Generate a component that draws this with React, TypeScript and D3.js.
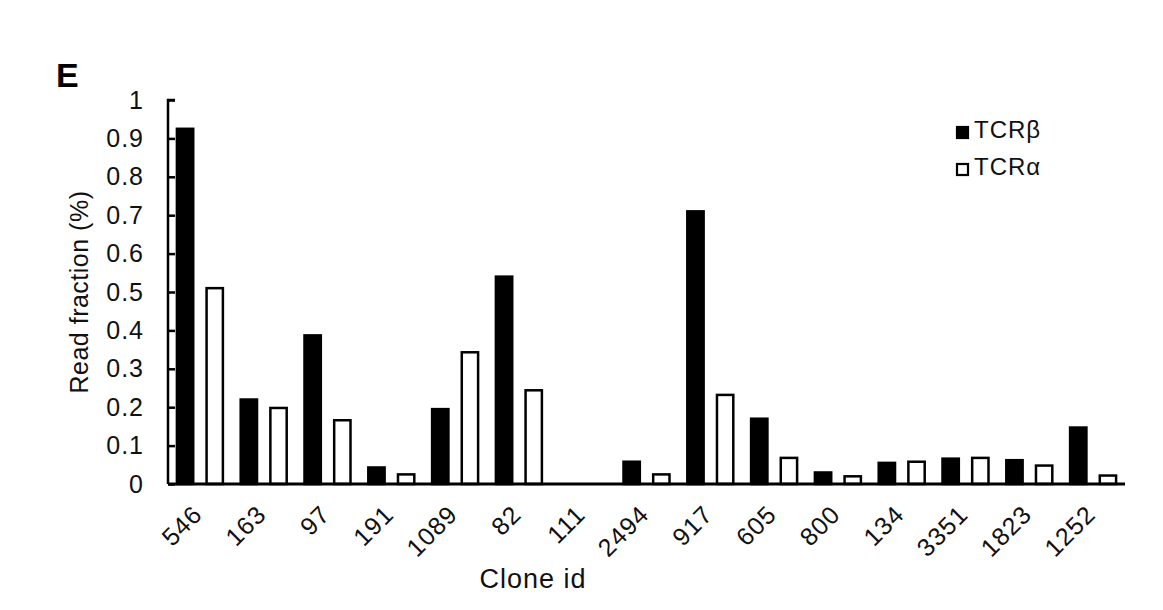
import { useEffect, useRef } from 'react';
import * as d3 from 'd3';

const clones = ['546', '163', '97', '191', '1089', '82', '111', '2494', '917', '605', '800', '134', '3351', '1823', '1252'];
const tcrBeta = [0.925, 0.22, 0.387, 0.043, 0.195, 0.54, 0, 0.058, 0.71, 0.17, 0.03, 0.055, 0.066, 0.062, 0.147];
const tcrAlpha = [0.51, 0.198, 0.166, 0.025, 0.343, 0.244, 0, 0.025, 0.232, 0.068, 0.02, 0.058, 0.068, 0.048, 0.022];
const seriesNames = ['TCRβ', 'TCRα'];
const yTicks = [0, 0.1, 0.2, 0.3, 0.4, 0.5, 0.6, 0.7, 0.8, 0.9, 1];

export default function App() {
  const svgRef = useRef<SVGSVGElement>(null);

  useEffect(() => {
    if (!svgRef.current) return;
    const width = 1163;
    const height = 610;
    const margin = { top: 100, right: 38, bottom: 126, left: 168 };
    const innerWidth = width - margin.left - margin.right;
    const innerHeight = height - margin.top - margin.bottom;
    const font = 'Liberation Sans, Arial, Helvetica, sans-serif';

    const svg = d3.select(svgRef.current);
    svg.selectAll('*').remove();
    svg.attr('width', width).attr('height', height).style('background', '#fff');

    const g = svg.append('g').attr('transform', `translate(${margin.left},${margin.top})`);

    const x0 = d3.scaleBand<string>().domain(clones).range([0, innerWidth]).paddingInner(0).paddingOuter(0);
    const x1 = d3.scaleBand<string>().domain(seriesNames).range([0, x0.bandwidth()]).paddingInner(0.45).paddingOuter(0.3);
    const y = d3.scaleLinear().domain([0, 1]).range([innerHeight, 0]);

    const data = clones.map((c, i) => ({ clone: c, values: [tcrBeta[i], tcrAlpha[i]] }));

    // bars
    const groups = g.selectAll('g.grp').data(data).enter().append('g')
      .attr('transform', (d) => `translate(${x0(d.clone)},0)`);
    groups.selectAll('rect').data((d) => d.values.map((v, k) => ({ v, k })))
      .enter().append('rect')
      .filter((d) => d.v > 0)
      .attr('x', (d) => x1(seriesNames[d.k]) as number)
      .attr('y', (d) => y(d.v))
      .attr('width', x1.bandwidth())
      .attr('height', (d) => innerHeight - y(d.v))
      .attr('fill', (d) => (d.k === 0 ? '#000' : '#fff'))
      .attr('stroke', '#000')
      .attr('stroke-width', 2.5);

    // y axis, ticks pointing inward
    const yAxis = g.append('g').call(
      d3.axisLeft(y).tickValues(yTicks).tickSize(-7).tickPadding(24).tickFormat((d) => `${d}`)
    );
    yAxis.select('.domain').attr('stroke-width', 2.5).attr('d', `M7,0H0V${innerHeight}`);
    yAxis.selectAll('.tick line').attr('stroke-width', 2.5);
    yAxis.selectAll('.tick text')
      .style('font-family', font).style('font-size', '25px').style('letter-spacing', '1px')
      .attr('fill', '#111');

    // x axis baseline
    g.append('line')
      .attr('x1', 0).attr('x2', innerWidth)
      .attr('y1', innerHeight).attr('y2', innerHeight)
      .attr('stroke', '#000').attr('stroke-width', 3);

    // x labels
    g.selectAll('text.xl').data(clones).enter().append('text')
      .attr('transform', (d) => `translate(${(x0(d) as number) + x0.bandwidth() / 2 + 4},${innerHeight + 32}) rotate(-45)`)
      .attr('text-anchor', 'end')
      .style('font-family', font)
      .style('font-size', '25px')
      .style('letter-spacing', '1px')
      .attr('fill', '#111')
      .text((d) => d);

    // axis titles
    svg.append('text')
      .attr('transform', `translate(88,${margin.top + innerHeight / 2}) rotate(-90)`)
      .attr('text-anchor', 'middle')
      .style('font-family', font)
      .style('font-size', '25px')
      .style('letter-spacing', '0.5px')
      .attr('fill', '#111')
      .text('Read fraction (%)');

    svg.append('text')
      .attr('x', 533)
      .attr('y', 588)
      .attr('text-anchor', 'middle')
      .style('font-family', font)
      .style('font-size', '27px')
      .style('letter-spacing', '1px')
      .attr('fill', '#111')
      .text('Clone id');

    // panel letter
    svg.append('text')
      .attr('x', 56)
      .attr('y', 87)
      .style('font-family', font)
      .style('font-size', '34px')
      .style('font-weight', 'bold')
      .attr('fill', '#000')
      .text('E');

    // legend
    const legend = svg.append('g').attr('transform', 'translate(956,126)');
    seriesNames.forEach((name, i) => {
      const row = legend.append('g').attr('transform', `translate(0,${i * 37})`);
      row.append('rect')
        .attr('x', 1).attr('y', 1)
        .attr('width', 11).attr('height', 11)
        .attr('fill', i === 0 ? '#000' : '#fff')
        .attr('stroke', '#000').attr('stroke-width', 2.2);
      row.append('text')
        .attr('x', 18).attr('y', 12)
        .style('font-family', font)
        .style('font-size', '24px')
        .style('letter-spacing', '1px')
        .attr('fill', '#111')
        .text(name);
    });
  }, []);

  return <svg ref={svgRef} style={{ position: 'absolute', left: 0, top: 0 }}></svg>;
}
